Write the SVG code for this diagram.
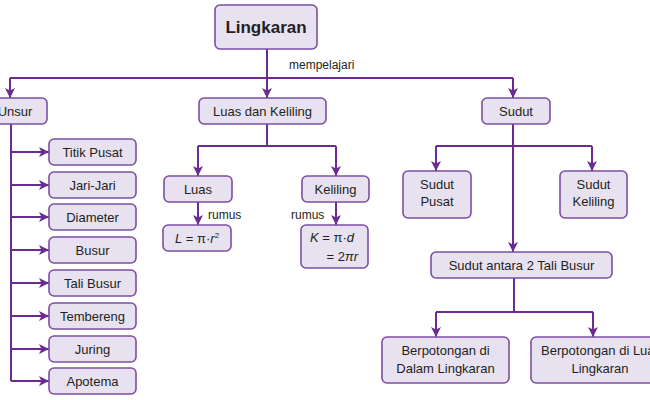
<svg xmlns="http://www.w3.org/2000/svg" width="650" height="400" viewBox="0 0 650 400">
<style>
.box{fill:#e7e1f0;stroke:#7b4fa3;stroke-width:1.6}
.t{font-family:"Liberation Sans",Arial,sans-serif;font-size:13px;fill:#231f20;text-anchor:middle}
.lbl{font-family:"Liberation Sans",Arial,sans-serif;font-size:12px;fill:#231f20}
.title{font-family:"Liberation Sans",Arial,sans-serif;font-size:17px;font-weight:bold;fill:#231f20;text-anchor:middle}
.c{fill:none;stroke:#6a2c91;stroke-width:2}
.a{marker-end:url(#arr)}
</style>
<defs>
<marker id="arr" markerUnits="userSpaceOnUse" markerWidth="10" markerHeight="10" viewBox="0 0 10 10" refX="10" refY="5" orient="auto">
<path d="M0,0 L10,5 L0,10 L2.5,5 z" fill="#6a2c91"/>
</marker>
</defs>
<g id="connectors">
<path class="c" d="M267,49 V78 M10,78 H513"/>
<path class="c a" d="M10,78 V98"/>
<path class="c a" d="M267,78 V98"/>
<path class="c a" d="M513,78 V98"/>
<path class="c" d="M11,124 V381"/>
<path class="c a" d="M11,152 H49"/>
<path class="c a" d="M11,185 H49"/>
<path class="c a" d="M11,217 H49"/>
<path class="c a" d="M11,250 H49"/>
<path class="c a" d="M11,283 H49"/>
<path class="c a" d="M11,316 H49"/>
<path class="c a" d="M11,349 H49"/>
<path class="c a" d="M11,381 H49"/>
<path class="c" d="M267,124 V146 M198,146 H336"/>
<path class="c a" d="M198,146 V176"/>
<path class="c a" d="M336,146 V176"/>
<path class="c a" d="M198,202 V225"/>
<path class="c a" d="M336,202 V225"/>
<path class="c" d="M436,146 H592"/>
<path class="c a" d="M513,124 V252"/>
<path class="c a" d="M436,146 V171"/>
<path class="c a" d="M592,146 V171"/>
<path class="c" d="M514,278 V312 M436,312 H593"/>
<path class="c a" d="M436,312 V337"/>
<path class="c a" d="M593,312 V337"/>
<text class="lbl" x="289" y="69">mempelajari</text>
<text class="lbl" x="208" y="219">rumus</text>
<text class="lbl" x="291" y="219">rumus</text>
</g>
<g id="lingkaran"><rect class="box" x="215" y="5" width="102" height="44" rx="5"/><text class="title" x="266" y="33">Lingkaran</text></g>
<g id="unsur"><rect class="box" x="-12" y="98" width="59" height="26" rx="5"/><text class="t" x="15" y="115.5">Unsur</text></g>
<g id="luasdankeliling"><rect class="box" x="199" y="98" width="127" height="26" rx="5"/><text class="t" x="262.5" y="115.5">Luas dan Keliling</text></g>
<g id="sudut"><rect class="box" x="482" y="98" width="68" height="26" rx="5"/><text class="t" x="516" y="115.5">Sudut</text></g>
<g id="titikpusat"><rect class="box" x="49" y="139" width="87" height="26" rx="5"/><text class="t" x="92.5" y="156.5">Titik Pusat</text></g>
<g id="jarijari"><rect class="box" x="49" y="172" width="87" height="26" rx="5"/><text class="t" x="92.5" y="189.5">Jari-Jari</text></g>
<g id="diameter"><rect class="box" x="49" y="204" width="87" height="26" rx="5"/><text class="t" x="92.5" y="221.5">Diameter</text></g>
<g id="busur"><rect class="box" x="49" y="237" width="87" height="26" rx="5"/><text class="t" x="92.5" y="254.5">Busur</text></g>
<g id="talibusur"><rect class="box" x="49" y="270" width="87" height="26" rx="5"/><text class="t" x="92.5" y="287.5">Tali Busur</text></g>
<g id="tembereng"><rect class="box" x="49" y="303" width="87" height="26" rx="5"/><text class="t" x="92.5" y="320.5">Tembereng</text></g>
<g id="juring"><rect class="box" x="49" y="336" width="87" height="26" rx="5"/><text class="t" x="92.5" y="353.5">Juring</text></g>
<g id="apotema"><rect class="box" x="49" y="368" width="87" height="26" rx="5"/><text class="t" x="92.5" y="385.5">Apotema</text></g>
<g id="luas"><rect class="box" x="164" y="176" width="68" height="26" rx="5"/><text class="t" x="198" y="193.5">Luas</text></g>
<g id="keliling"><rect class="box" x="302" y="176" width="67" height="26" rx="5"/><text class="t" x="335.5" y="193.5">Keliling</text></g>
<g id="rumusluas"><rect class="box" x="163" y="225" width="68" height="26" rx="5"/><text class="t" x="197" y="242.5"><tspan font-style="italic">L</tspan> = π·<tspan font-style="italic">r</tspan><tspan font-size="8" dy="-5">2</tspan></text></g>
<g id="rumuskeliling"><rect class="box" x="301" y="225" width="67" height="43" rx="5"/><text class="t" x="354" y="242" text-anchor="end" style="text-anchor:end"><tspan font-style="italic">K</tspan> = π·<tspan font-style="italic">d</tspan></text><text class="t" x="358" y="261" style="text-anchor:end">= 2<tspan font-style="italic">πr</tspan></text></g>
<g id="sudutpusat"><rect class="box" x="403" y="171" width="68" height="47" rx="5"/><text class="t" x="437" y="189">Sudut</text><text class="t" x="437" y="206">Pusat</text></g>
<g id="sudutkeliling"><rect class="box" x="560" y="171" width="67" height="47" rx="5"/><text class="t" x="593.5" y="189">Sudut</text><text class="t" x="593.5" y="206">Keliling</text></g>
<g id="sudutantara"><rect class="box" x="431" y="252" width="181" height="26" rx="5"/><text class="t" x="521.5" y="269.5">Sudut antara 2 Tali Busur</text></g>
<g id="dalam"><rect class="box" x="382" y="337" width="127" height="46" rx="5"/><text class="t" x="445.5" y="355">Berpotongan di</text><text class="t" x="445.5" y="373">Dalam Lingkaran</text></g>
<g id="luar"><rect class="box" x="531" y="337" width="138" height="46" rx="5"/><text class="t" x="600" y="355">Berpotongan di Luar</text><text class="t" x="600" y="373">Lingkaran</text></g>
</svg>
